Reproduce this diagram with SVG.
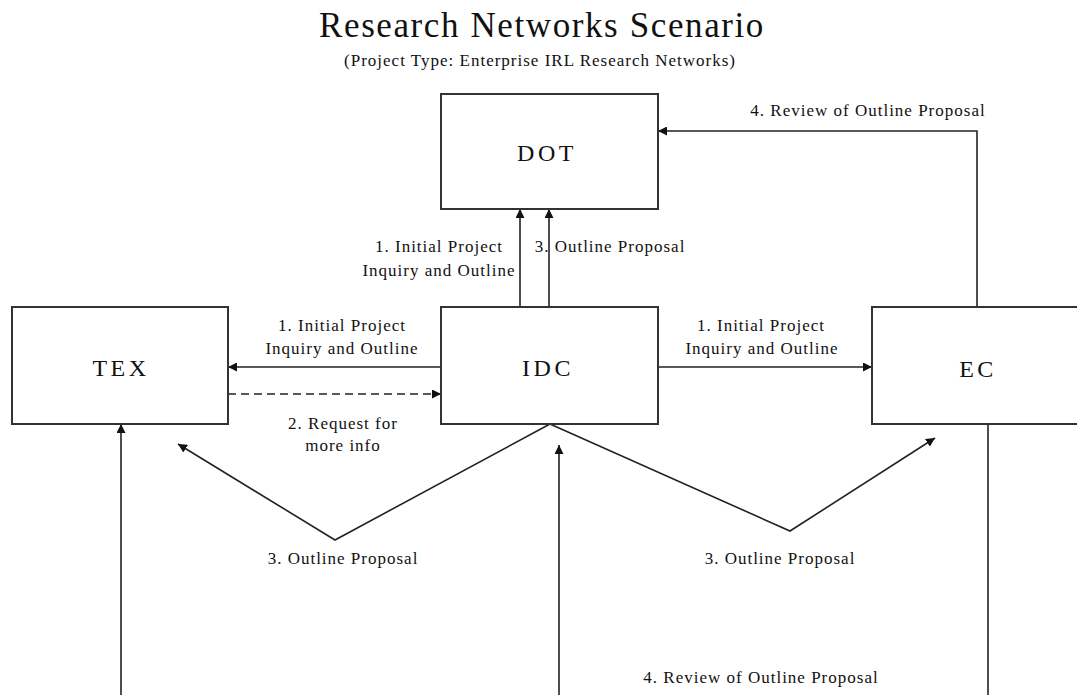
<svg xmlns="http://www.w3.org/2000/svg" width="1077" height="695" viewBox="0 0 1077 695">
  <style>
    .box { fill: #ffffff; stroke: #333333; stroke-width: 2; }
    .node-label { font-family: "Liberation Serif", "Times New Roman", serif; font-size: 24px; letter-spacing: 3.5px; fill: #111111; text-anchor: middle; }
    .label { font-family: "Liberation Serif", "Times New Roman", serif; font-size: 17px; letter-spacing: 1px; fill: #111111; text-anchor: middle; }
    .title { font-family: "Liberation Serif", "Times New Roman", serif; font-size: 35px; letter-spacing: 1.6px; fill: #111111; text-anchor: middle; }
    .wire { fill: none; stroke: #222222; stroke-width: 1.6; }
    .arrow { marker-end: url(#head); }
    .dashed { stroke-dasharray: 8 5; }
  </style>
  <defs>
    <marker id="head" markerUnits="userSpaceOnUse" markerWidth="10" markerHeight="9" refX="9" refY="4.5" orient="auto">
      <path d="M0,0 L9,4.5 L0,9 z" fill="#111111"/>
    </marker>
  </defs>
  <rect width="1077" height="695" fill="#ffffff"/>

  <!-- heading -->
  <text class="title" x="542" y="37">Research Networks Scenario</text>
  <text class="label" x="540" y="66">(Project Type: Enterprise IRL Research Networks)</text>

  <!-- connectors -->
  <g id="connectors">
    <line class="wire arrow" x1="441" y1="367" x2="228" y2="367"/>
    <line class="wire arrow dashed" x1="228" y1="394" x2="441" y2="394"/>
    <line class="wire arrow" x1="658" y1="367" x2="872" y2="367"/>
    <line class="wire arrow" x1="520" y1="307" x2="520" y2="209"/>
    <line class="wire arrow" x1="549" y1="307" x2="549" y2="209"/>
    <polyline class="wire arrow" points="977,307 977,131 658,131"/>
    <polyline class="wire arrow" points="550,424 335,540 178,444"/>
    <polyline class="wire arrow" points="550,424 790,531 935,438"/>
    <line class="wire arrow" x1="121" y1="695" x2="121" y2="424"/>
    <line class="wire arrow" x1="559" y1="695" x2="559" y2="445"/>
    <line class="wire" x1="988" y1="424" x2="988" y2="695"/>

    <text class="label" x="439" y="252">1. Initial Project</text>
    <text class="label" x="439" y="276">Inquiry and Outline</text>
    <text class="label" x="610" y="252">3. Outline Proposal</text>
    <text class="label" x="342" y="331">1. Initial Project</text>
    <text class="label" x="342" y="354">Inquiry and Outline</text>
    <text class="label" x="761" y="331">1. Initial Project</text>
    <text class="label" x="762" y="354">Inquiry and Outline</text>
    <text class="label" x="343" y="429">2. Request for</text>
    <text class="label" x="343" y="451">more info</text>
    <text class="label" x="343" y="564">3. Outline Proposal</text>
    <text class="label" x="780" y="564">3. Outline Proposal</text>
    <text class="label" x="868" y="116">4. Review of Outline Proposal</text>
    <text class="label" x="761" y="683">4. Review of Outline Proposal</text>
  </g>

  <!-- nodes -->
  <g id="node-dot">
    <rect class="box" x="441" y="94" width="217" height="115"/>
    <text class="node-label" x="547" y="161">DOT</text>
  </g>
  <g id="node-tex">
    <rect class="box" x="12" y="307" width="216" height="117"/>
    <text class="node-label" x="121" y="376">TEX</text>
  </g>
  <g id="node-idc">
    <rect class="box" x="441" y="307" width="217" height="117"/>
    <text class="node-label" x="548" y="376">IDC</text>
  </g>
  <g id="node-ec">
    <rect class="box" x="872" y="307" width="220" height="117"/>
    <text class="node-label" x="978" y="377">EC</text>
  </g>
</svg>
